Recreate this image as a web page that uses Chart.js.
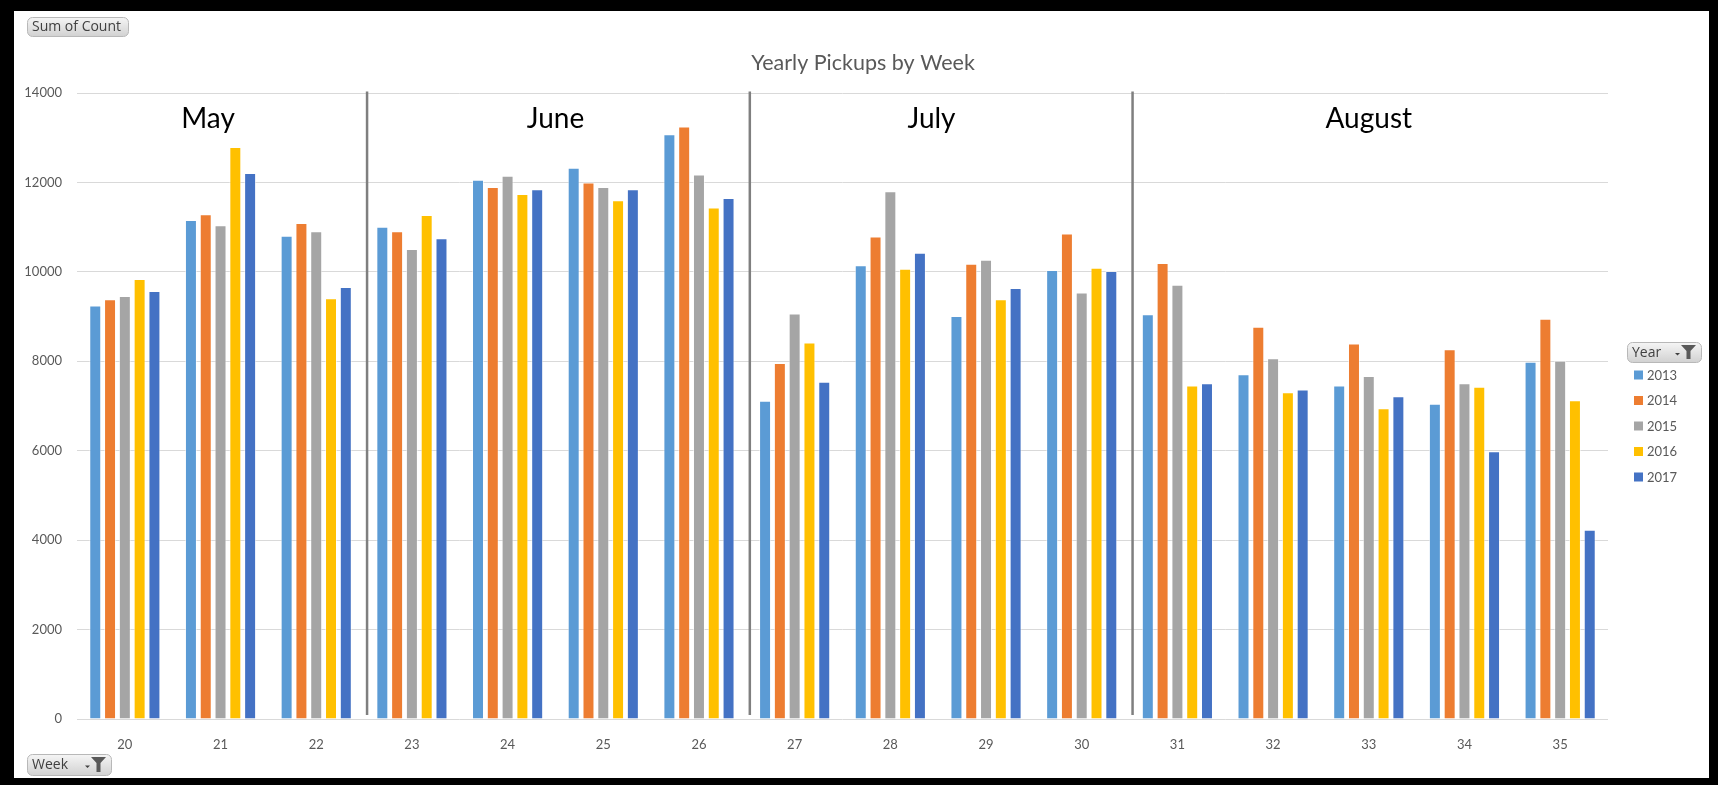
<!DOCTYPE html>
<html>
<head>
<meta charset="utf-8">
<title>Yearly Pickups by Week</title>
<script src="https://cdn.jsdelivr.net/npm/chart.js@4.4.1/dist/chart.umd.min.js"></script>
<style>
  html, body { margin: 0; padding: 0; background: #fff; }
  #frame {
    position: absolute; left: 0; top: 0;
    width: 1695px; height: 767px;
    border-style: solid; border-color: #000;
    border-width: 11px 9px 7px 14px;
  }
  canvas { display: block; }
</style>
</head>
<body>
<div id="frame"><canvas id="pickupsChart" width="1695" height="767"></canvas></div>
<script>
// Week numbers on the x axis
const weeks = [20, 21, 22, 23, 24, 25, 26, 27, 28, 29, 30, 31, 32, 33, 34, 35];
const years = ["2013", "2014", "2015", "2016", "2017"];

// Sum of pickups per week, one array per year
const counts2013 = [9250, 11160, 10810, 11010, 12060, 12330, 13080, 7120, 10150, 9010, 10040, 9050, 7710, 7460, 7050, 7990];
const counts2014 = [9390, 11290, 11090, 10910, 11900, 12000, 13250, 7960, 10790, 10180, 10860, 10200, 8770, 8400, 8270, 8950];
const counts2015 = [9460, 11040, 10910, 10510, 12150, 11900, 12180, 9070, 11800, 10270, 9540, 9710, 8070, 7670, 7510, 8010];
const counts2016 = [9840, 12790, 9410, 11270, 11740, 11600, 11440, 8420, 10070, 9390, 10090, 7460, 7310, 6950, 7430, 7130];
const counts2017 = [9570, 12210, 9660, 10750, 11850, 11850, 11650, 7540, 10430, 9640, 10020, 7510, 7370, 7220, 5990, 4230];

// Month captions and the last week of each month before a divider
const months = ["May", "June", "July", "August"];
const monthCaptionWeek = [20.87, 24.5, 28.43, 33];
const monthEndWeeks = [22, 26, 30];

const colors = ["#5B9BD5", "#ED7D31", "#A5A5A5", "#FFC000", "#4472C4"];
const series = [counts2013, counts2014, counts2015, counts2016, counts2017];

function drawButton(ctx, x, y, w, h, text, withFilter) {
  const g = ctx.createLinearGradient(0, y, 0, y + h);
  g.addColorStop(0, "#f6f6f6");
  g.addColorStop(1, "#d2d2d2");
  ctx.beginPath();
  ctx.roundRect(x + 0.5, y + 0.5, w, h, 5);
  ctx.fillStyle = g;
  ctx.fill();
  ctx.strokeStyle = "#b8b8b8";
  ctx.lineWidth = 1;
  ctx.stroke();
  ctx.fillStyle = "#404040";
  ctx.font = "14px 'Open Sans'";
  ctx.textAlign = "left";
  ctx.textBaseline = "middle";
  ctx.fillText(text, x + 5, y + h / 2 + 1);
  if (withFilter) {
    const fr = x + w - 5;
    const fl = fr - 15;
    const ft = y + 3;
    const fb = y + h - 3;
    // dropdown arrow
    ctx.fillStyle = "#404040";
    ctx.beginPath();
    ctx.moveTo(fl - 6, y + h / 2 + 1);
    ctx.lineTo(fl - 1, y + h / 2 + 1);
    ctx.lineTo(fl - 3.5, y + h / 2 + 3.5);
    ctx.closePath();
    ctx.fill();
    // funnel
    ctx.fillStyle = "#595959";
    ctx.beginPath();
    ctx.moveTo(fl, ft);
    ctx.lineTo(fr, ft);
    ctx.lineTo(fl + 9.5, ft + 6);
    ctx.lineTo(fl + 9.5, fb);
    ctx.lineTo(fl + 5.5, fb);
    ctx.lineTo(fl + 5.5, ft + 6);
    ctx.closePath();
    ctx.fill();
  }
}

const decorations = {
  id: "decorations",
  afterDraw(chart) {
    const { ctx, chartArea, scales: { x } } = chart;
    const step = x.getPixelForValue(1) - x.getPixelForValue(0);
    const x0 = x.getPixelForValue(0);
    ctx.save();

    // title
    ctx.fillStyle = "#595959";
    ctx.font = "21.5px Lato";
    ctx.textAlign = "center";
    ctx.textBaseline = "middle";
    ctx.fillText("Yearly Pickups by Week", 849, 52);

    // month dividers
    ctx.strokeStyle = "#7f7f7f";
    ctx.lineWidth = 2.5;
    monthEndWeeks.forEach((w) => {
      const px = x.getPixelForValue(weeks.indexOf(w)) + step / 2 + 3;
      ctx.beginPath();
      ctx.moveTo(px, chartArea.top - 1.5);
      ctx.lineTo(px, chartArea.bottom - 4);
      ctx.stroke();
    });

    // month captions
    ctx.fillStyle = "#000";
    ctx.font = "28px Lato";
    months.forEach((m, i) => {
      ctx.fillText(m, x0 + (monthCaptionWeek[i] - weeks[0]) * step, 108);
    });

    // legend
    ctx.font = "13px Lato";
    ctx.textAlign = "left";
    chart.data.datasets.forEach((ds, i) => {
      const cy = 364 + i * 25.5;
      ctx.fillStyle = ds.backgroundColor;
      ctx.fillRect(1620, cy - 4.5, 9, 9);
      ctx.fillStyle = "#595959";
      ctx.fillText(ds.label, 1633, cy + 0.5);
    });

    // field buttons
    drawButton(ctx, 13, 6, 101, 19, "Sum of Count", false);
    drawButton(ctx, 13, 743, 84, 21, "Week", true);
    drawButton(ctx, 1613, 331, 74, 20, "Year", true);
    ctx.restore();
  },
};

new Chart(document.getElementById("pickupsChart"), {
  type: "bar",
  data: {
    labels: weeks.map(String),
    datasets: years.map((y, i) => ({
      label: y,
      data: series[i],
      backgroundColor: colors[i],
      borderColor: "rgba(255,255,255,0.55)",
      borderWidth: 1,
      categoryPercentage: 0.773,
      barPercentage: 0.81,
    })),
  },
  options: {
    responsive: false,
    devicePixelRatio: 1,
    animation: false,
    layout: { padding: { top: 82, right: 101, bottom: 29, left: 0 } },
    plugins: {
      legend: { display: false },
      tooltip: { enabled: false },
      title: { display: false },
    },
    scales: {
      x: {
        grid: { display: false },
        border: { display: false },
        ticks: { color: "#595959", font: { family: "Lato", size: 13 }, padding: 10 },
        afterFit: (axis) => { axis.height = 30; },
      },
      y: {
        min: 0,
        max: 14000,
        ticks: {
          stepSize: 2000,
          color: "#595959",
          font: { family: "Lato", size: 13 },
          padding: 15,
          callback: (v) => String(v),
        },
        grid: { color: "#d9d9d9", drawTicks: false },
        border: { display: false },
        afterFit: (axis) => { axis.width = 63; },
      },
    },
  },
  plugins: [decorations],
});
</script>
</body>
</html>
